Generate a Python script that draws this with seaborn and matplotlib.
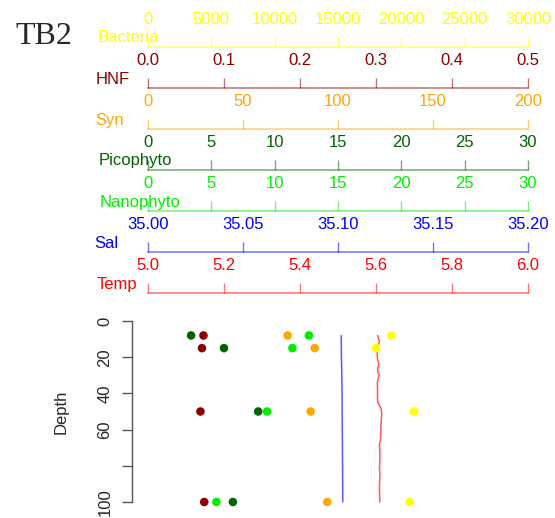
import matplotlib
matplotlib.use("Agg")
import matplotlib.pyplot as plt
from matplotlib.colors import to_rgba
import seaborn as sns

sns.set_style("white")
plt.rcParams["font.family"] = ["Liberation Sans", "DejaVu Sans"]

# ---- station TB2 data ----
sample_depth = [8, 15, 50, 100]
bacteria = [19200, 18000, 21000, 20650]
hnf = [0.073, 0.071, 0.069, 0.074]
syn = [73.5, 87.7, 85.6, 94.4]
picophyto = [3.4, 6.0, 8.7, 6.7]
nanophyto = [12.7, 11.4, 9.4, 5.4]

ctd_depth_t = [8, 11, 16, 20, 24, 27, 30, 34, 38, 44, 46, 48, 51, 58, 66, 68,
               75, 82, 84, 92, 100]
temp = [5.604, 5.609, 5.603, 5.6035, 5.607, 5.604, 5.608, 5.6035, 5.604,
        5.604, 5.607, 5.613, 5.615, 5.613, 5.612, 5.609, 5.6105, 5.609,
        5.6105, 5.609, 5.610]
ctd_depth_s = [8, 20, 35, 50, 65, 80, 100]
sal = [35.1017, 35.1018, 35.1021, 35.1022, 35.1023, 35.1024, 35.1025]

# header scales: name, colour, range, ticks, tick labels
names = ["Bacteria", "HNF", "Syn", "Picophyto", "Nanophyto", "Sal", "Temp"]
colors = ["#FFFF00", "#8B0000", "#FFA500", "#006400", "#00EE00", "#0000FF", "#FF0000"]
ranges = [(0, 30000), (0, 0.5), (0, 200), (0, 30), (0, 30), (35.0, 35.2), (5.0, 6.0)]
ticks = [[0, 5000, 10000, 15000, 20000, 25000, 30000],
         [0, 0.1, 0.2, 0.3, 0.4, 0.5],
         [0, 50, 100, 150, 200],
         [0, 5, 10, 15, 20, 25, 30],
         [0, 5, 10, 15, 20, 25, 30],
         [35.00, 35.05, 35.10, 35.15, 35.20],
         [5.0, 5.2, 5.4, 5.6, 5.8, 6.0]]
tick_labels = [["0", "5000", "10000", "15000", "20000", "25000", "30000"],
               ["0.0", "0.1", "0.2", "0.3", "0.4", "0.5"],
               ["0", "50", "100", "150", "200"],
               ["0", "5", "10", "15", "20", "25", "30"],
               ["0", "5", "10", "15", "20", "25", "30"],
               ["35.00", "35.05", "35.10", "35.15", "35.20"],
               ["5.0", "5.2", "5.4", "5.6", "5.8", "6.0"]]
depth_ticks = [0, 20, 40, 60, 80, 100]
depth_labels = ["0", "20", "40", "60", "", "100"]

W, H = 555, 518
fig = plt.figure(figsize=(W / 100, H / 100), dpi=100)


def fx(px):
    return px / W


def fy(py):
    return 1 - py / H


left_px, right_px = 148, 528
line_y = [46.5, 88, 128.5, 170, 211, 252, 293]
name_pos = [(98, 37), (95.5, 80), (95, 120), (99, 161), (100, 202), (94, 243), (97, 285)]

# ---- stacked header scales ----
for i, name in enumerate(names):
    c = colors[i]
    lc = to_rgba(c, 0.55)
    hax = fig.add_axes([fx(left_px), fy(line_y[i]) - 0.002, fx(right_px - left_px), 0.002])
    hax.set_facecolor("none")
    for s in ["left", "right", "bottom"]:
        hax.spines[s].set_visible(False)
    hax.spines["top"].set_color(lc)
    hax.spines["top"].set_linewidth(1.1)
    hax.set_xlim(*ranges[i])
    hax.set_yticks([])
    hax.xaxis.set_ticks_position("top")
    hax.set_xticks(ticks[i])
    hax.set_xticklabels(tick_labels[i])
    hax.tick_params(axis="x", direction="out", length=7.2, width=1.0, color=lc,
                    labelcolor=c, labelsize=12, pad=7)
    fig.text(fx(name_pos[i][0]), fy(name_pos[i][1]), name, color=c, fontsize=12,
             ha="left", va="center")

fig.text(fx(15), fy(37), "TB2", fontsize=23, family=["Liberation Serif", "DejaVu Serif"],
         ha="left", va="center")

# ---- depth profile panel ----
ax = fig.add_axes([fx(left_px), fy(502), fx(right_px - left_px), (502 - 321) / H])
ax.set_facecolor("none")
for s in ["top", "right", "bottom"]:
    ax.spines[s].set_visible(False)
ax.spines["left"].set_position(("outward", 11.5))
ax.spines["left"].set_bounds(0, 100)
ax.spines["left"].set_color("#555555")
ax.spines["left"].set_linewidth(1.0)
ax.set_xticks([])
ax.set_yticks(depth_ticks)
ax.set_yticklabels(depth_labels, rotation=90, va="center")
ax.tick_params(axis="y", direction="out", length=7.2, width=1.0, color="#555555",
               labelsize=12, pad=7, left=True)
ax.set_ylabel("")
fig.text(fx(61), fy(412), "Depth", rotation=90, fontsize=12, ha="center", va="center")

# CTD profiles, each on its own x scale
profiles = [(sal, ctd_depth_s, 5), (temp, ctd_depth_t, 6)]
for vals, dep, k in profiles:
    tw = ax.twiny()
    sns.lineplot(x=vals, y=dep, ax=tw, orient="y", estimator=None,
                 color=to_rgba(colors[k], 0.65), linewidth=1.1, clip_on=False)
    tw.set_xlim(*ranges[k])
    tw.set_axis_off()

# bottle samples, each on its own x scale
samples = [(hnf, 1), (picophyto, 3), (nanophyto, 4), (syn, 2), (bacteria, 0)]
for vals, k in samples:
    tw = ax.twiny()
    sns.scatterplot(x=vals, y=sample_depth, ax=tw, color=colors[k], s=38,
                    edgecolor="none", clip_on=False, legend=False)
    tw.set_xlim(*ranges[k])
    tw.set_axis_off()

ax.set_ylim(100, 0)

fig.savefig("out.png", dpi=100)
